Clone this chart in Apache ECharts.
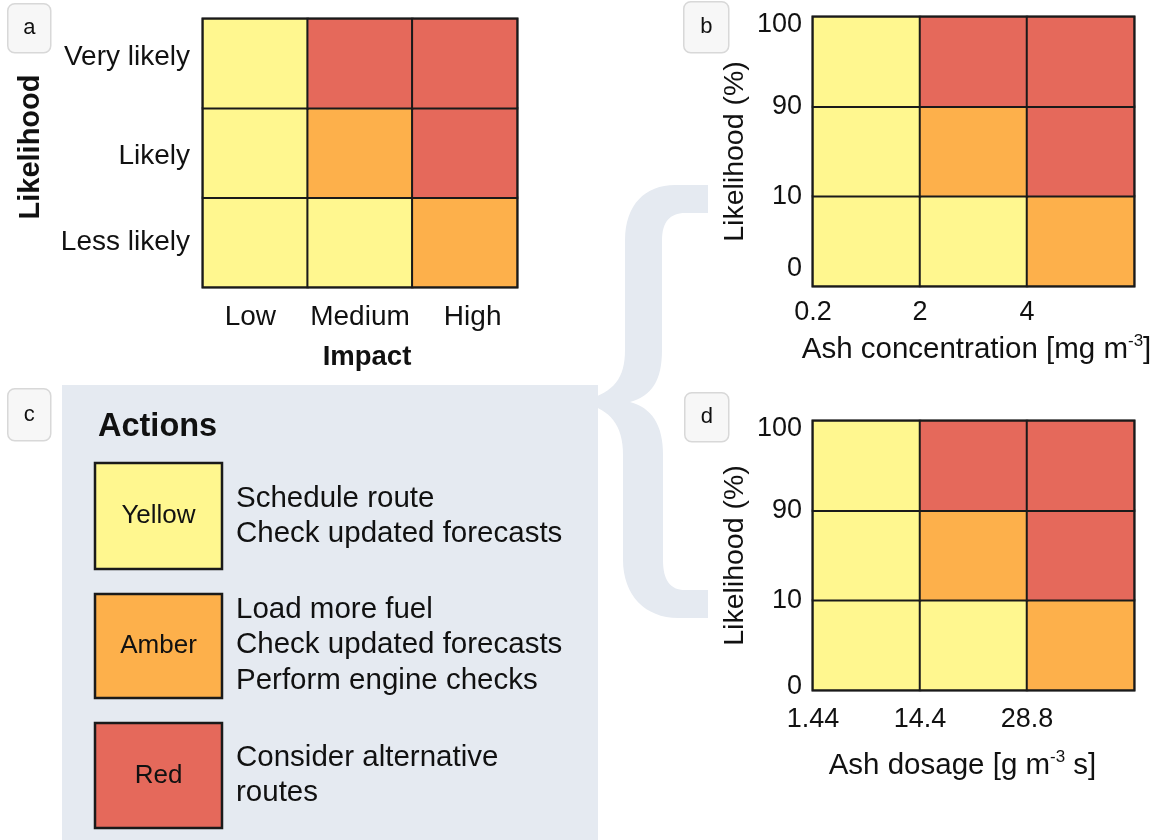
<!DOCTYPE html>
<html>
<head>
<meta charset="utf-8">
<script src="https://cdn.jsdelivr.net/npm/echarts@6/dist/echarts.min.js"></script>
<style>
  html, body { margin: 0; padding: 0; background: #ffffff; }
  #chart { width: 1162px; height: 840px; }
</style>
</head>
<body>
<div id="chart"></div>
<script>
// Risk matrix categories
const impactLevels = ['Low', 'Medium', 'High'];
const likelihoodLevels = ['Less likely', 'Likely', 'Very likely'];

// Risk level per cell, rows from least to most likely, columns from low to high impact
// 0 = Yellow, 1 = Amber, 2 = Red
const riskGrid = [
  [0, 0, 1],
  [0, 1, 2],
  [0, 2, 2]
];

// Boundary tick labels for the quantitative matrices
const concentrationTicks = ['0.2', '2', '4', ''];
const dosageTicks = ['1.44', '14.4', '28.8', ''];
const probabilityTicks = ['0', '10', '90', '100'];

// Action levels and what each one means
const actionLevels = ['Yellow', 'Amber', 'Red'];
const levelColors = ['#fff78f', '#fdb04b', '#e5695b'];
const actionTexts = [
  ['Schedule route', 'Check updated forecasts'],
  ['Load more fuel', 'Check updated forecasts', 'Perform engine checks'],
  ['Consider alternative', 'routes']
];

const FONT = "'Liberation Sans', Arial, Helvetica, sans-serif";
const INK = '#111111';
const PANEL_BG = '#e5eaf1';

const cells = [];
riskGrid.forEach((row, r) => row.forEach((level, c) => cells.push([c, r, level])));

// ---- decorative brace joining the actions panel to panels b and d ----
function sampleOutline(cmds) {
  const pts = [];
  let cx = 0, cy = 0;
  cmds.forEach(cmd => {
    if (cmd[0] === 'M' || cmd[0] === 'L') {
      cx = cmd[1]; cy = cmd[2];
      pts.push([cx, cy]);
    } else if (cmd[0] === 'C') {
      const [, x1, y1, x2, y2, x, y] = cmd;
      for (let i = 1; i <= 16; i++) {
        const t = i / 16, u = 1 - t;
        pts.push([
          u * u * u * cx + 3 * u * u * t * x1 + 3 * u * t * t * x2 + t * t * t * x,
          u * u * u * cy + 3 * u * u * t * y1 + 3 * u * t * t * y2 + t * t * t * y
        ]);
      }
      cx = x; cy = y;
    }
  });
  return pts;
}
const bracePoints = sampleOutline([
  ['M', 708, 185], ['L', 675, 185],
  ['C', 645, 185, 625, 205, 625, 240],
  ['L', 625, 350],
  ['C', 625, 378, 614, 392, 586, 400],
  ['L', 586, 404],
  ['C', 610, 410, 623, 425, 623, 455],
  ['L', 623, 560],
  ['C', 623, 595, 645, 618, 678, 618],
  ['L', 708, 618], ['L', 708, 590], ['L', 685, 590],
  ['C', 670, 590, 663, 580, 663, 560],
  ['L', 663, 455],
  ['C', 663, 425, 652, 408, 630, 402],
  ['C', 652, 396, 662, 380, 662, 350],
  ['L', 662, 240],
  ['C', 662, 222, 670, 213, 685, 213],
  ['L', 708, 213]
]);

// ---- panel letter tags ----
function panelTag(letter, x, y, w, h) {
  return {
    type: 'group', left: x, top: y,
    children: [
      { type: 'rect', shape: { x: 0, y: 0, width: w, height: h, r: 7 },
        style: { fill: '#f7f7f7', stroke: '#d8d8d8', lineWidth: 1.5 } },
      { type: 'text', x: w / 2, y: h / 2,
        style: { text: letter, fill: INK, font: '22px ' + FONT, textAlign: 'center', textVerticalAlign: 'middle' } }
    ]
  };
}

// ---- actions panel (c) ----
const actionBoxes = [
  { top: 463, height: 106 },
  { top: 594, height: 104 },
  { top: 723, height: 105 }
];
const actionElements = [];
actionLevels.forEach((name, i) => {
  const box = actionBoxes[i];
  actionElements.push({
    type: 'rect', z: 10,
    shape: { x: 95, y: box.top, width: 127, height: box.height },
    style: { fill: levelColors[i], stroke: '#1a1a1a', lineWidth: 2.5 }
  });
  actionElements.push({
    type: 'text', z: 11, x: 158.5, y: box.top + box.height / 2,
    style: { text: name, fill: INK, font: '26px ' + FONT, textAlign: 'center', textVerticalAlign: 'middle' }
  });
  const lines = actionTexts[i];
  const firstY = [498.5, 609.5, 757.5][i];
  lines.forEach((line, k) => {
    actionElements.push({
      type: 'text', z: 11, x: 236, y: firstY + k * 35.8,
      style: { text: line, fill: INK, font: '29.5px ' + FONT, textAlign: 'left', textVerticalAlign: 'middle' }
    });
  });
});

// ---- axes helpers ----
const tickFont = { fontFamily: FONT, color: INK };
function boundaryXAxis(gridIndex, ticks, margin, name, nameGap, namePad) {
  return {
    type: 'value', gridIndex: gridIndex, position: 'bottom', min: 0, max: 3, interval: 1,
    axisLine: { show: false }, axisTick: { show: false }, splitLine: { show: false },
    axisLabel: { ...tickFont, fontSize: 27, margin: margin, formatter: v => ticks[v] },
    name: name, nameLocation: 'middle', nameGap: nameGap,
    nameTextStyle: {
      ...tickFont, fontSize: 29.5, padding: namePad,
      rich: { s: { fontFamily: FONT, color: INK, fontSize: 17, padding: [0, 0, 16, 0] } }
    }
  };
}
function boundaryYAxis(gridIndex, zeroLift) {
  return {
    type: 'value', gridIndex: gridIndex, position: 'left', min: 0, max: 3, interval: 1,
    axisLine: { show: false }, axisTick: { show: false }, splitLine: { show: false },
    axisLabel: {
      ...tickFont, fontSize: 27, margin: 11,
      formatter: v => v === 0 ? '{lo|' + probabilityTicks[v] + '}'
                 : v === 3 ? '{hi|' + probabilityTicks[v] + '}'
                 : probabilityTicks[v],
      rich: {
        lo: { fontFamily: FONT, color: INK, fontSize: 27, padding: [0, 0, zeroLift, 0] },
        hi: { fontFamily: FONT, color: INK, fontSize: 27, padding: [16, 0, 0, 0] }
      }
    },
    name: 'Likelihood (%)', nameLocation: 'middle', nameGap: 63,
    nameTextStyle: { ...tickFont, fontSize: 28.5, padding: [0, 0, 0, 0] }
  };
}
function hiddenCategory(gridIndex, data) {
  return { type: 'category', gridIndex: gridIndex, data: data, show: false };
}
function heat(index) {
  return {
    type: 'heatmap', xAxisIndex: index, yAxisIndex: index, data: cells,
    itemStyle: { borderColor: '#1a1a1a', borderWidth: 2 },
    emphasis: { disabled: true }, silent: true
  };
}
const gridFrame = { show: true, borderColor: '#1a1a1a', borderWidth: 3, backgroundColor: 'transparent' };
const labelFont = { fontFamily: FONT, color: INK, fontSize: 28 };

const chart = echarts.init(document.getElementById('chart'), null, { renderer: 'canvas' });
chart.setOption({
  animation: false,
  backgroundColor: '#ffffff',
  textStyle: { fontFamily: FONT },
  grid: [
    { left: 203, top: 19, width: 314, height: 268, ...gridFrame },
    { left: 813, top: 17, width: 321, height: 269, ...gridFrame },
    { left: 813, top: 421, width: 321, height: 269, ...gridFrame }
  ],
  xAxis: [
    {
      type: 'category', gridIndex: 0, data: impactLevels,
      axisLine: { show: false }, axisTick: { show: false },
      axisLabel: {
        ...labelFont, margin: 16, interval: 0,
        formatter: (v, i) => '{c' + i + '|' + v + '}',
        rich: {
          c0: { ...labelFont, padding: [0, 10, 0, 0] },
          c1: { ...labelFont },
          c2: { ...labelFont, padding: [0, 0, 0, 16] }
        }
      },
      name: 'Impact', nameLocation: 'middle', nameGap: 56,
      nameTextStyle: { ...tickFont, fontSize: 27.5, fontWeight: 'bold', padding: [0, 0, 0, 14] }
    },
    hiddenCategory(1, impactLevels),
    hiddenCategory(2, impactLevels),
    boundaryXAxis(1, concentrationTicks, 13, 'Ash concentration [mg m{s|-3}]', 47, [0, 0, 0, 6]),
    boundaryXAxis(2, dosageTicks, 16, 'Ash dosage [g m{s|-3} s]', 59, [0, 22, 0, 0])
  ],
  yAxis: [
    {
      type: 'category', gridIndex: 0, data: likelihoodLevels,
      axisLine: { show: false }, axisTick: { show: false },
      axisLabel: {
        ...labelFont, margin: 13, interval: 0,
        formatter: (v, i) => '{r' + i + '|' + v + '}',
        rich: {
          r0: { ...labelFont },
          r1: { ...labelFont, padding: [6, 0, 0, 0] },
          r2: { ...labelFont, padding: [0, 0, 12, 0] }
        }
      },
      name: 'Likelihood', nameLocation: 'middle', nameGap: 158,
      nameTextStyle: { ...tickFont, fontSize: 29, fontWeight: 'bold', padding: [0, 0, 0, 12] }
    },
    hiddenCategory(1, likelihoodLevels),
    hiddenCategory(2, likelihoodLevels),
    boundaryYAxis(1, 34),
    boundaryYAxis(2, 6)
  ],
  visualMap: {
    type: 'piecewise', show: false, dimension: 2, seriesIndex: [0, 1, 2],
    pieces: levelColors.map((color, i) => ({ value: i, color: color }))
  },
  series: [heat(0), heat(1), heat(2)],
  graphic: [
    { type: 'rect', z: -5, shape: { x: 62, y: 385, width: 536, height: 460 }, style: { fill: PANEL_BG } },
    { type: 'polygon', z: -5, shape: { points: bracePoints }, style: { fill: PANEL_BG } },
    { type: 'text', z: 11, x: 98, y: 427,
      style: { text: 'Actions', fill: INK, font: 'bold 32.5px ' + FONT, textAlign: 'left', textVerticalAlign: 'middle' } },
    ...actionElements,
    panelTag('a', 7, 3, 43, 49),
    panelTag('b', 683, 1, 45, 51),
    panelTag('c', 7, 388, 43, 52),
    panelTag('d', 684, 392, 44, 49)
  ]
});
</script>
</body>
</html>
